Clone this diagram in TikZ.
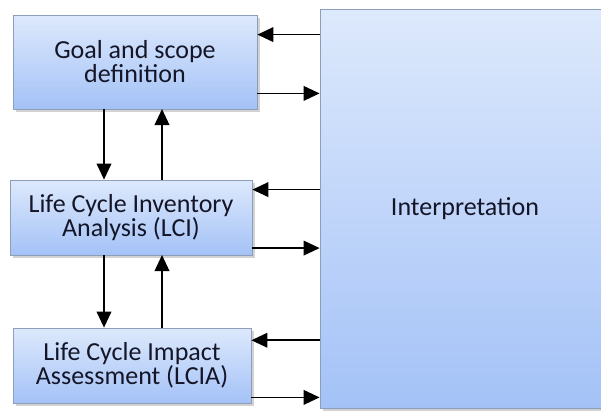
\documentclass[tikz,border=0pt]{standalone}
\usepackage{fontspec}
\setmainfont{Carlito}
\usepackage{xcolor}
\usepackage{tikz}
\usetikzlibrary{arrows.meta}
\usetikzlibrary{positioning,calc}
\usetikzlibrary{shadows}

\definecolor{boxtop}{RGB}{221,233,252}
\definecolor{boxbot}{RGB}{164,194,247}
\definecolor{boxline}{RGB}{140,158,186}
\definecolor{txt}{RGB}{20,22,40}

\tikzset{
	phase/.style={draw=boxline,line width=0.6pt,top color=boxtop,bottom color=boxbot,
		align=center,text=txt,inner sep=0pt,
		font=\fontsize{19.5}{18}\selectfont,
		drop shadow={shadow xshift=2pt,shadow yshift=-2pt,opacity=0.35}},
	flow/.style={-{Triangle[length=12pt,width=11pt]},line width=1.2pt,black}
}

\begin{document}
\begin{tikzpicture}[x=0.75pt,y=-0.75pt]
	\useasboundingbox (0,0) rectangle (601,412);
	\fill[white] (0,0) rectangle (601,412);
	% the four stages
	\node[phase,minimum width=217.5pt,minimum height=299.25pt] (interp) at (465,208.5) {Interpretation};
	\node[phase,minimum width=183pt,minimum height=70.5pt] (goal) at (135,62) {Goal and scope\\definition};
	\node[phase,minimum width=181.5pt,minimum height=56.25pt] (lci) at (131,217.5) {Life Cycle Inventory\\Analysis (LCI)};
	\node[phase,minimum width=178.5pt,minimum height=56.25pt] (lcia) at (132,365.5) {Life Cycle Impact\\Assessment (LCIA)};
	% points on the right side of the stages
	\coordinate (g1) at ([yshift=-15pt]goal.north east);
	\coordinate (g2) at ([yshift=12pt]goal.south east);
	\coordinate (i1) at ([yshift=-7.5pt]lci.north east);
	\coordinate (i2) at ([yshift=5.5pt]lci.south east);
	\coordinate (a1) at ([yshift=-9.5pt]lcia.north east);
	\coordinate (a2) at ([yshift=4.5pt]lcia.south east);
	% points on the bottom and top of the stages
	\coordinate (d1) at (104,109);
	\coordinate (u1) at (162,109);
	\coordinate (d2) at (104,255);
	\coordinate (u2) at (162,255);
	% to and from interpretation
	\draw[flow] (interp.west |- g1) -- (g1);
	\draw[flow] (g2) -- (interp.west |- g2);
	\draw[flow] (interp.west |- i1) -- (i1);
	\draw[flow] (i2) -- (interp.west |- i2);
	\draw[flow] (interp.west |- a1) -- (a1);
	\draw[flow] (a2) -- (interp.west |- a2);
	% between the stages
	\draw[flow] (d1) -- (d1 |- lci.north);
	\draw[flow] (u1 |- lci.north) -- (u1);
	\draw[flow] (d2) -- (d2 |- lcia.north);
	\draw[flow] (u2 |- lcia.north) -- (u2);
\end{tikzpicture}
\end{document}
